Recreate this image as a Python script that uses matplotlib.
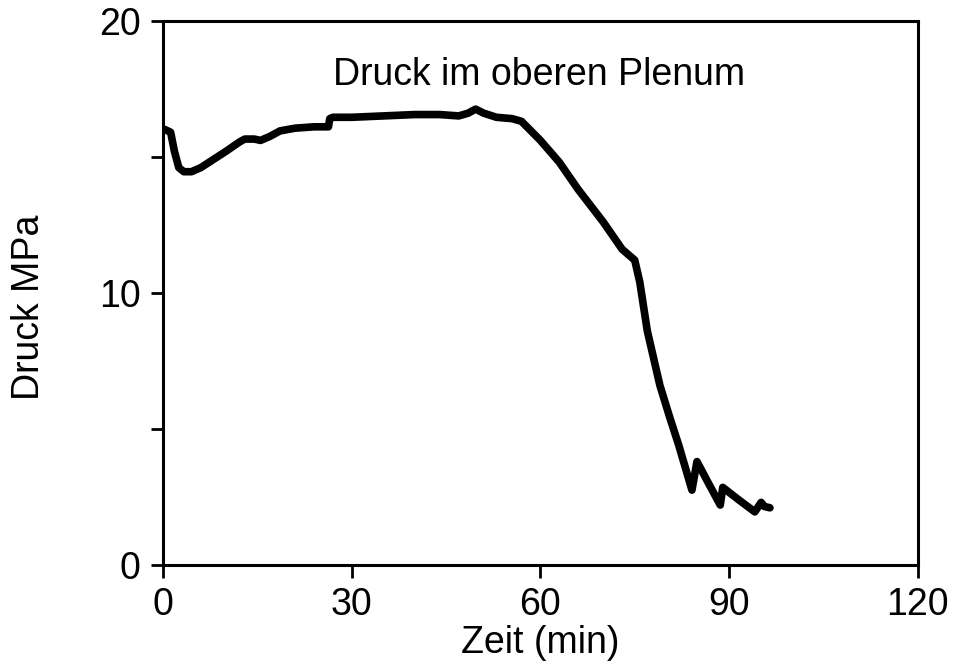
import matplotlib
matplotlib.use("Agg")
import matplotlib.pyplot as plt

plt.rcParams['font.family'] = ['Liberation Sans', 'DejaVu Sans']

# Druck im oberen Plenum
zeit = [0, 0.3, 1.2, 1.8, 2.5, 3.3, 4.5, 6, 8, 10, 12.2, 13, 14.5, 15.5, 17,
        18.6, 21, 24, 26.3, 26.5, 27, 30, 35, 40, 44, 47, 48.5, 49.7, 51, 53,
        55.5, 57, 60, 63, 66, 70, 73, 75, 75.8, 77, 79, 80.6, 82, 84.1, 84.9,
        86.5, 88.6, 89.0, 91.5, 94.1, 95.1, 95.6, 96.5]
druck = [16.0, 16.0, 15.9, 15.2, 14.6, 14.45, 14.45, 14.6, 14.9, 15.2, 15.55,
         15.65, 15.65, 15.6, 15.75, 15.95, 16.05, 16.1, 16.1, 16.4, 16.45,
         16.45, 16.5, 16.55, 16.55, 16.5, 16.6, 16.75, 16.6, 16.45, 16.4, 16.3,
         15.6, 14.8, 13.8, 12.6, 11.6, 11.2, 10.4, 8.6, 6.6, 5.4, 4.4, 2.75,
         3.8, 3.1, 2.2, 2.85, 2.4, 1.95, 2.3, 2.15, 2.1]

xticks = [0, 30, 60, 90, 120]
yticks = [0, 10, 20]
yminor = [5, 15]

fig = plt.figure(figsize=(9.65, 6.67), dpi=100)
ax = fig.add_axes([0.169, 0.153, 0.782, 0.816])
ax.plot(zeit, druck, color="black", lw=5.5, solid_capstyle="round", solid_joinstyle="round")

ax.set_xlim(0, 120)
ax.set_ylim(0, 20)
ax.set_xticks(xticks)
ax.set_yticks(yticks)
ax.set_yticks(yminor, minor=True)
ax.tick_params(which="both", direction="out", length=9, width=2, labelsize=27, pad=7)
for s in ax.spines.values():
    s.set_linewidth(2.2)

ax.set_xlabel("Zeit (min)", fontsize=27, labelpad=1)
ax.set_ylabel("Druck MPa", fontsize=27)
ax.yaxis.set_label_coords(-0.154, 0.474)
ax.text(0.225, 0.90, "Druck im oberen Plenum", transform=ax.transAxes,
        fontsize=27, va="center", ha="left")

fig.savefig("out.png", dpi=100)
